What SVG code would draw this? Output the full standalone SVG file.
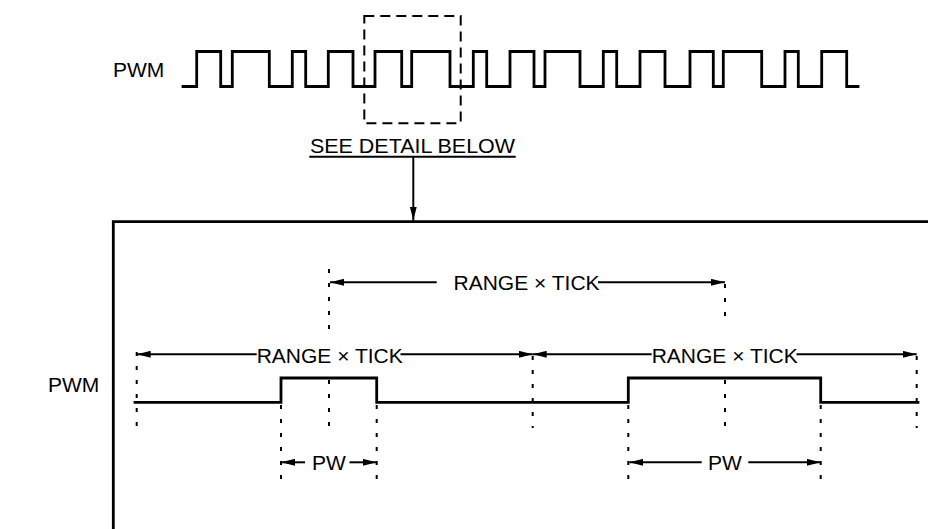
<svg xmlns="http://www.w3.org/2000/svg" width="928" height="529" viewBox="0 0 928 529">
<style>
  .txt { font-family: "Liberation Sans", Arial, sans-serif; font-size: 21px; fill: #000; }
  .wave { fill: none; stroke: #000; stroke-width: 2.8; stroke-linejoin: miter; stroke-linecap: square; }
  .box { fill: none; stroke: #000; stroke-width: 2.8; }
  .dash { fill: none; stroke: #000; stroke-width: 2; stroke-dasharray: 10 6; }
  .dot { fill: none; stroke: #000; stroke-width: 2; stroke-dasharray: 4 10; }
  .arr { fill: none; stroke: #000; stroke-width: 2; }
</style>
<defs>
  <marker id="ah" markerUnits="userSpaceOnUse" markerWidth="14" markerHeight="7" refX="14" refY="3.5" orient="auto" viewBox="0 0 14 7">
    <path d="M0,0 L14,3.5 L0,7 z" fill="#000"/>
  </marker>
</defs>

<g id="top-pwm">
  <text class="txt" x="113" y="76.7">PWM</text>
  <path class="wave" d="M183,86.5 H196.7 V51.5 H220.7 V86.5 H232.3 V51.5 H269.3 V86.5 H292.3 V51.5 H305.7 V86.5 H328.3 V51.5 H353 V86.5 H375 V51.5 H401.7 V86.5 H411.7 V51.5 H450 V86.5 H473.3 V51.5 H486.7 V86.5 H510 V51.5 H534 V86.5 H545 V51.5 H580 V86.5 H603.3 V51.5 H616.7 V86.5 H640 V51.5 H665 V86.5 H690 V51.5 H713.3 V86.5 H723.3 V51.5 H761.7 V86.5 H785 V51.5 H798.3 V86.5 H821.7 V51.5 H846.7 V86.5 H858"/>
</g>

<g id="detail-box">
  <rect class="dash" x="364.3" y="16" width="96.4" height="107.3"/>
</g>

<g id="see-detail">
  <text class="txt" x="310" y="153.3" textLength="205" lengthAdjust="spacingAndGlyphs">SEE DETAIL BELOW</text>
  <line x1="309.3" y1="156.7" x2="515.7" y2="156.7" stroke="#000" stroke-width="2"/>
</g>

<g id="detail-frame">
  <path class="box" d="M113.3,529 V221.7 H928"/>
</g>

<g id="bottom-pwm">
  <text class="txt" x="48" y="392">PWM</text>
  <path class="wave" d="M135,402.3 H281 V378 H376.7 V402.3 H628.3 V378 H820.7 V402.3 H918"/>
</g>

<g id="labels">
  <text class="txt" x="453.5" y="290">RANGE × TICK</text>
  <text class="txt" x="256.7" y="363.3">RANGE × TICK</text>
  <text class="txt" x="651.7" y="363.3">RANGE × TICK</text>
  <text class="txt" x="312" y="470">PW</text>
  <text class="txt" x="708" y="470">PW</text>
</g>

<g id="connectors">
  <line class="arr" x1="413.3" y1="156.7" x2="413.3" y2="220.5" marker-end="url(#ah)"/>
  <!-- dotted guide lines -->
  <line class="dot" x1="136.7" y1="352" x2="136.7" y2="428"/>
  <line class="dot" x1="329" y1="269" x2="329" y2="330"/>
  <line class="dot" x1="329" y1="380" x2="329" y2="428"/>
  <line class="dot" x1="281" y1="405" x2="281" y2="488"/>
  <line class="dot" x1="376.7" y1="405" x2="376.7" y2="488"/>
  <line class="dot" x1="532.7" y1="356" x2="532.7" y2="428"/>
  <line class="dot" x1="628.3" y1="405" x2="628.3" y2="488"/>
  <line class="dot" x1="725" y1="284" x2="725" y2="320"/>
  <line class="dot" x1="725" y1="380" x2="725" y2="428"/>
  <line class="dot" x1="820.7" y1="405" x2="820.7" y2="488"/>
  <line class="dot" x1="916.7" y1="356" x2="916.7" y2="428"/>
  <!-- upper range arrow -->
  <line class="arr" x1="436.7" y1="282.3" x2="330" y2="282.3" marker-end="url(#ah)"/>
  <line class="arr" x1="598" y1="282.3" x2="725" y2="282.3" marker-end="url(#ah)"/>
  <!-- lower left range arrow -->
  <line class="arr" x1="256.7" y1="354.3" x2="136.7" y2="354.3" marker-end="url(#ah)"/>
  <line class="arr" x1="400.5" y1="354.3" x2="532.7" y2="354.3" marker-end="url(#ah)"/>
  <!-- lower right range arrow -->
  <line class="arr" x1="651.7" y1="354.3" x2="532.7" y2="354.3" marker-end="url(#ah)"/>
  <line class="arr" x1="796.5" y1="354.3" x2="916.7" y2="354.3" marker-end="url(#ah)"/>
  <!-- PW arrows -->
  <line class="arr" x1="305" y1="462.3" x2="281" y2="462.3" marker-end="url(#ah)"/>
  <line class="arr" x1="349.5" y1="462.3" x2="376.7" y2="462.3" marker-end="url(#ah)"/>
  <line class="arr" x1="701.7" y1="462.3" x2="629.3" y2="462.3" marker-end="url(#ah)"/>
  <line class="arr" x1="748.3" y1="462.3" x2="820.7" y2="462.3" marker-end="url(#ah)"/>
</g>
</svg>
